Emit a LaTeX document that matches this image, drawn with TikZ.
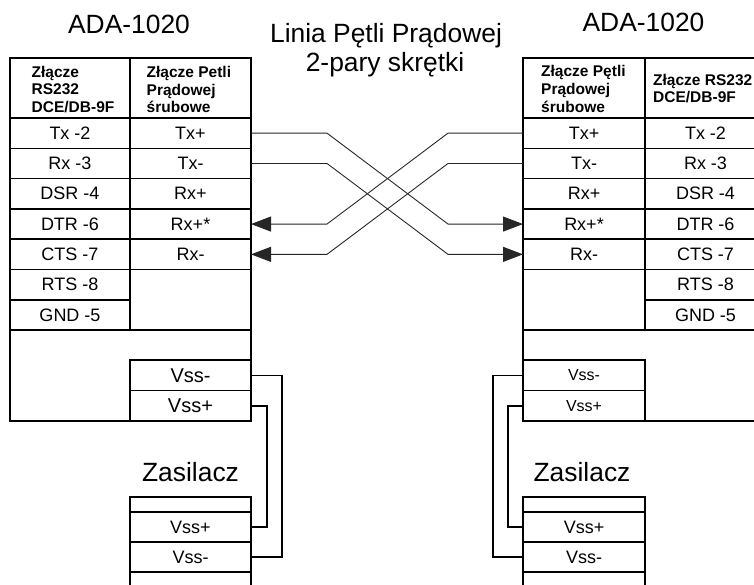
\documentclass[tikz,border=0pt]{standalone}
\usepackage{fontspec}
\setmainfont{Liberation Sans}
\usetikzlibrary{arrows.meta,calc}
\begin{document}
\begin{tikzpicture}[x=1pt,y=-1pt,
  cell/.style={draw, line width=1.6pt, inner sep=0pt, outer sep=0pt, anchor=north west,
    font=\fontsize{18}{20}\selectfont},
  frame/.style={draw, line width=1.6pt, inner sep=0pt, outer sep=0pt, anchor=north west},
  boxline/.style={line width=1.6pt},
  hdr/.style={anchor=west, align=left, inner sep=0pt, font=\bfseries\fontsize{15.5}{17.8}\selectfont},
  big/.style={inner sep=0pt, anchor=base, font=\fontsize{26.4}{28.5}\selectfont},
  wire/.style={line width=0.9pt, black!85},
  pwr/.style={line width=1.5pt, black},
  tip/.style={-{Triangle[length=20pt,width=15pt]}}]
\useasboundingbox (0,0) rectangle (754,584);
\clip (0,0) rectangle (754,584);

% titles
\node[big] (tL) at (129,33) {ADA-1020};
\node[big] (tR) at (643.5,31) {ADA-1020};
\node[big, align=center] (tM) at (386,42.5) {Linia Pętli Prądowej};
\node[big] (tM2) at (385,71) {2-pary skrętki};

% ---------- left block ----------
\node[frame, minimum width=241pt, minimum height=363pt] (Lbox) at (10,58) {};
\node[cell, minimum width=120pt, minimum height=60pt] (LHA) at (10,58) {};
\node[cell, minimum width=121pt, minimum height=60pt] (LHB) at (130,58) {};
\node[hdr] (LHAt) at (31.5,89.5) {Złącze\\RS232\\DCE/DB-9F};
\node[hdr] (LHBt) at (146.5,89.5) {Złącze Petli\\Prądowej\\śrubowe};
\foreach \t [count=\i from 0] in {Tx -2,Rx -3,DSR -4,DTR -6,CTS -7,RTS -8,GND -5}
  \node[cell, minimum width=120pt, minimum height=30.3pt] (LA\i) at (10,118+30.3*\i) {\t};
\foreach \t [count=\i from 0] in {Tx+,Tx-,Rx+,Rx+*,Rx-}
  \node[cell, minimum width=121pt, minimum height=30.3pt] (LB\i) at (130,118+30.3*\i) {\t};
\draw[boxline] (LA6.south west) -- (LA6.south west -| Lbox.east);
\node[cell, minimum width=121pt, minimum height=30.5pt, font=\fontsize{20}{22}\selectfont] (LVm) at (130,360) {Vss-};
\node[cell, minimum width=121pt, minimum height=30.5pt, font=\fontsize{20}{22}\selectfont] (LVp) at (130,390.5) {Vss+};

\node[big, anchor=center] (LZ) at (190.5,472) {Zasilacz};
\node[cell, minimum width=121pt, minimum height=15pt] (LP0) at (130,497) {};
\node[cell, minimum width=121pt, minimum height=30pt] (LPp) at (130,512) {Vss+};
\node[cell, minimum width=121pt, minimum height=30pt] (LPm) at (130,542) {Vss-};
\node[cell, minimum width=121pt, minimum height=30pt] (LP3) at (130,572) {};

\draw[pwr] (LVm.east) -- ++(31,0) |- (LPm.east);
\draw[pwr] (LVp.east) -- ++(16,0) |- (LPp.east);

% ---------- right block ----------
\node[frame, minimum width=243pt, minimum height=363pt] (Rbox) at (523,58) {};
\node[cell, minimum width=122pt, minimum height=60pt] (RHC) at (523,58) {};
\node[cell, minimum width=121pt, minimum height=60pt] (RHD) at (645,58) {};
\node[hdr] (RHCt) at (541,89) {Złącze Pętli\\Prądowej\\śrubowe};
\node[hdr] (RHDt) at (653,88.5) {Złącze RS232\\DCE/DB-9F};
\foreach \t [count=\i from 0] in {Tx+,Tx-,Rx+,Rx+*,Rx-}
  \node[cell, minimum width=122pt, minimum height=30.3pt] (RC\i) at (523,118+30.3*\i) {\t};
\foreach \t [count=\i from 0] in {Tx -2,Rx -3,DSR -4,DTR -6,CTS -7,RTS -8,GND -5}
  \node[cell, minimum width=121pt, minimum height=30.3pt] (RD\i) at (645,118+30.3*\i) {\t};
\draw[boxline] (RD6.south east) -- (RD6.south east -| Rbox.west);
\node[cell, minimum width=122pt, minimum height=30.5pt, font=\fontsize{16}{18}\selectfont] (RVm) at (523,360) {Vss-};
\node[cell, minimum width=122pt, minimum height=30.5pt, font=\fontsize{16}{18}\selectfont] (RVp) at (523,390.5) {Vss+};

\node[big, anchor=center] (RZ) at (582,472) {Zasilacz};
\node[cell, minimum width=122pt, minimum height=15pt] (RP0) at (523,497) {};
\node[cell, minimum width=122pt, minimum height=30pt] (RPp) at (523,512) {Vss+};
\node[cell, minimum width=122pt, minimum height=30pt] (RPm) at (523,542) {Vss-};
\node[cell, minimum width=122pt, minimum height=30pt] (RP3) at (523,572) {};

\draw[pwr] (RVm.west) -- ++(-30,0) |- (RPm.west);
\draw[pwr] (RVp.west) -- ++(-15,0) |- (RPp.west);

% ---------- crossed current-loop lines ----------
\draw[wire, tip] (LB0.east) -- ++(76,0) -- ($(RC3.west)+(-75,0)$) -- (RC3.west);
\draw[wire, tip] (LB1.east) -- ++(76,0) -- ($(RC4.west)+(-75,0)$) -- (RC4.west);
\draw[wire, tip] (RC0.west) -- ++(-75,0) -- ($(LB3.east)+(76,0)$) -- (LB3.east);
\draw[wire, tip] (RC1.west) -- ++(-75,0) -- ($(LB4.east)+(76,0)$) -- (LB4.east);
\end{tikzpicture}
\end{document}
